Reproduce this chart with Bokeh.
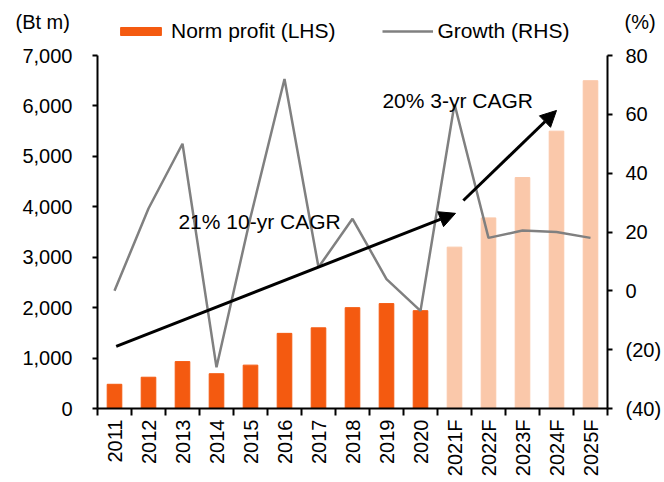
import math
from bokeh.plotting import figure
from bokeh.layouts import column
from bokeh.models import (Range1d, LinearAxis, FixedTicker, NumeralTickFormatter,
                          Legend, LegendItem, Arrow, NormalHead, Label, ColumnDataSource)
from bokeh.embed import file_html
from bokeh.resources import INLINE

categories = ["2011", "2012", "2013", "2014", "2015", "2016", "2017", "2018",
              "2019", "2020", "2021F", "2022F", "2023F", "2024F", "2025F"]
norm_profit = [480, 620, 930, 690, 860, 1490, 1600, 2000, 2080, 1940,
               3200, 3780, 4580, 5500, 6500]
growth = [0, 28, 50, -26, 25, 72, 8, 24.5, 4, -6.8, 63.5, 18, 20.5, 20, 18]
is_forecast = [False] * 10 + [True] * 5
left_ticks = [0, 1000, 2000, 3000, 4000, 5000, 6000, 7000]
right_ticks = [-40, -20, 0, 20, 40, 60, 80]

ACT = "#F45A10"
FCST = "#FAC8AA"
GREY = "#808080"
FONT = "Liberation Sans"

n = len(categories)
centers = [i + 0.5 for i in range(n)]
bounds = [float(i) for i in range(n + 1)]
colors = [FCST if f else ACT for f in is_forecast]

src = ColumnDataSource(dict(x=centers, y=norm_profit, c=colors, g=growth))

W, H = 664, 482
HH = 43

# ---------- header: units + legend ----------
hdr = figure(width=W, height=HH, output_backend="svg", toolbar_location=None,
             x_range=Range1d(0, W), y_range=Range1d(0, HH),
             x_axis_type=None, y_axis_type=None, min_border=0)
hdr.frame_align = False
hdr.outline_line_color = None
hdr.grid.visible = False
# legend swatches come from the same data, mapped on ranges that keep them out of view
hdr.extra_y_ranges = {"off": Range1d(7000, 8000)}
hdr.extra_x_ranges = {"offx": Range1d(100, 101)}
r_bar = hdr.vbar(x="x", top="y", width=0.43, color="c", source=src,
                 x_range_name="offx", y_range_name="off")
r_line = hdr.line(x="x", y="g", source=src, x_range_name="offx", y_range_name="off",
                  line_color=GREY, line_width=2.5)
legend = Legend(items=[LegendItem(label="Norm profit (LHS)", renderers=[r_bar], index=0),
                       LegendItem(label="Growth (RHS)", renderers=[r_line])],
                orientation="horizontal", location=(115, 0),
                label_text_font=FONT, label_text_font_size="21px", label_text_color="black",
                glyph_width=51, glyph_height=10, label_standoff=5, spacing=46,
                border_line_color=None, background_fill_alpha=0,
                padding=0, margin=0)
hdr.add_layout(legend)
hdr.add_layout(Label(x=15, y=HH - 21, text="(Bt m)", text_font=FONT, text_font_size="20px",
                     text_color="black", text_baseline="middle"))
hdr.add_layout(Label(x=624, y=HH - 21, text="(%)", text_font=FONT, text_font_size="20px",
                     text_color="black", text_baseline="middle"))

# ---------- main chart ----------
p = figure(width=W, height=H - HH, output_backend="svg", toolbar_location=None,
           x_range=Range1d(0, n), y_range=Range1d(0, 7000),
           min_border_left=97, min_border_right=57, min_border_top=55 - HH, min_border_bottom=74)
p.frame_align = False
p.outline_line_color = None
p.grid.visible = False

p.extra_y_ranges = {"pct": Range1d(-40, 80)}

bars = p.vbar(x="x", top="y", width=0.43, color="c", source=src)
line = p.line(x="x", y="g", source=src, y_range_name="pct", line_color=GREY, line_width=2.5)

xa = p.xaxis[0]
xa.ticker = FixedTicker(ticks=centers, minor_ticks=bounds)
xa.major_label_overrides = {c: lab for c, lab in zip(centers, categories)}
xa.major_tick_out = 0
xa.major_tick_in = 0
xa.minor_tick_out = 7
xa.minor_tick_in = 0
xa.minor_tick_line_width = 2
xa.major_label_orientation = math.pi / 2
xa.major_label_standoff = 4
xa.axis_line_width = 2

ya = p.yaxis[0]
ya.ticker = FixedTicker(ticks=left_ticks)
ya.formatter = NumeralTickFormatter(format="0,0")
ya.major_tick_out = 5
ya.major_tick_in = 0
ya.minor_tick_line_color = None
ya.axis_line_width = 2
ya.major_tick_line_width = 2
ya.major_label_standoff = 20

ra = LinearAxis(y_range_name="pct")
ra.ticker = FixedTicker(ticks=right_ticks)
ra.formatter = NumeralTickFormatter(format="(0)")
ra.major_tick_out = 5
ra.major_tick_in = 0
ra.minor_tick_line_color = None
ra.axis_line_width = 2
ra.major_tick_line_width = 2
ra.major_label_standoff = 13
p.add_layout(ra, "right")

for ax in [xa, ya, ra]:
    ax.major_label_text_font = FONT
    ax.major_label_text_font_size = "20px"
    ax.major_label_text_color = "black"
    ax.axis_line_color = "black"
    ax.major_tick_line_color = "black"
xa.minor_tick_line_color = "black"

head1 = NormalHead(size=16, fill_color="black", line_color="black")
p.add_layout(Arrow(end=head1, x_start=0.55, y_start=1230, x_end=10.53, y_end=3870,
                   line_width=3, line_color="black"))
head2 = NormalHead(size=16, fill_color="black", line_color="black")
p.add_layout(Arrow(end=head2, x_start=10.76, y_start=4125, x_end=13.5, y_end=5910,
                   line_width=3, line_color="black"))

p.add_layout(Label(x=2.38, y=3708, text="21% 10-yr CAGR", text_font=FONT,
                   text_font_size="21px", text_color="black", text_baseline="middle"))
p.add_layout(Label(x=8.38, y=6107, text="20% 3-yr CAGR", text_font=FONT,
                   text_font_size="21px", text_color="black", text_baseline="middle"))

layout = column(hdr, p, spacing=0)
open("out.html", "w").write(file_html(layout, INLINE))
